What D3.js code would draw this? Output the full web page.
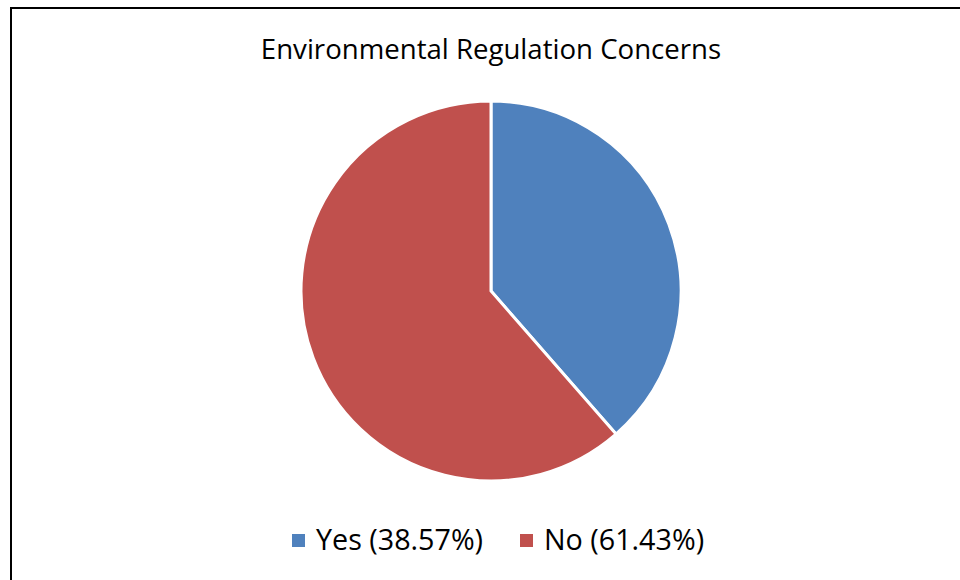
<!DOCTYPE html>
<html>
<head>
<meta charset="utf-8">
<script src="https://cdn.jsdelivr.net/npm/d3@7"></script>
<style>
  body { margin: 0; background: #fff; }
  svg text { font-family: "Open Sans", "Noto Sans", sans-serif; fill: #000; }
</style>
</head>
<body>
<svg id="chart" width="960" height="580"></svg>
<script>
var title = "Environmental Regulation Concerns";
var categories = ["Yes", "No"];
var values = [38.57, 61.43];
var colors = ["#4F81BD", "#C0504D"];

var svg = d3.select("#chart");

// frame (only top and left edges are visible in the picture)
svg.append("line")
    .attr("x1", 11).attr("y1", 8).attr("x2", 960).attr("y2", 8)
    .style("stroke", "#000").style("stroke-width", 2);
svg.append("line")
    .attr("x1", 11).attr("y1", 7).attr("x2", 11).attr("y2", 580)
    .style("stroke", "#000").style("stroke-width", 2);

svg.append("text")
    .attr("x", 491)
    .attr("y", 59)
    .attr("text-anchor", "middle")
    .style("font-size", "27.6px")
    .text(title);

var cx = 491, cy = 291, radius = 190;

var pie = d3.pie().sort(null).value(function(d) { return d; });
var arc = d3.arc().innerRadius(0).outerRadius(radius);

var g = svg.append("g").attr("transform", "translate(" + cx + "," + cy + ")");
g.selectAll("path")
    .data(pie(values))
    .enter().append("path")
    .attr("d", arc)
    .attr("fill", function(d, i) { return colors[i]; })
    .style("stroke", "#fff")
    .style("stroke-width", 3)
    .style("stroke-linejoin", "miter");

// legend
var legendX = [292, 520];
var legend = svg.selectAll(".legend")
    .data(categories)
    .enter().append("g")
    .attr("class", "legend")
    .attr("transform", function(d, i) { return "translate(" + legendX[i] + ",534)"; });

legend.append("rect")
    .attr("width", 13)
    .attr("height", 13)
    .attr("fill", function(d, i) { return colors[i]; });

legend.append("text")
    .attr("x", 24)
    .attr("y", 16)
    .style("font-size", "28.7px")
    .text(function(d, i) { return d + " (" + values[i].toFixed(2) + "%)"; });
</script>
</body>
</html>
